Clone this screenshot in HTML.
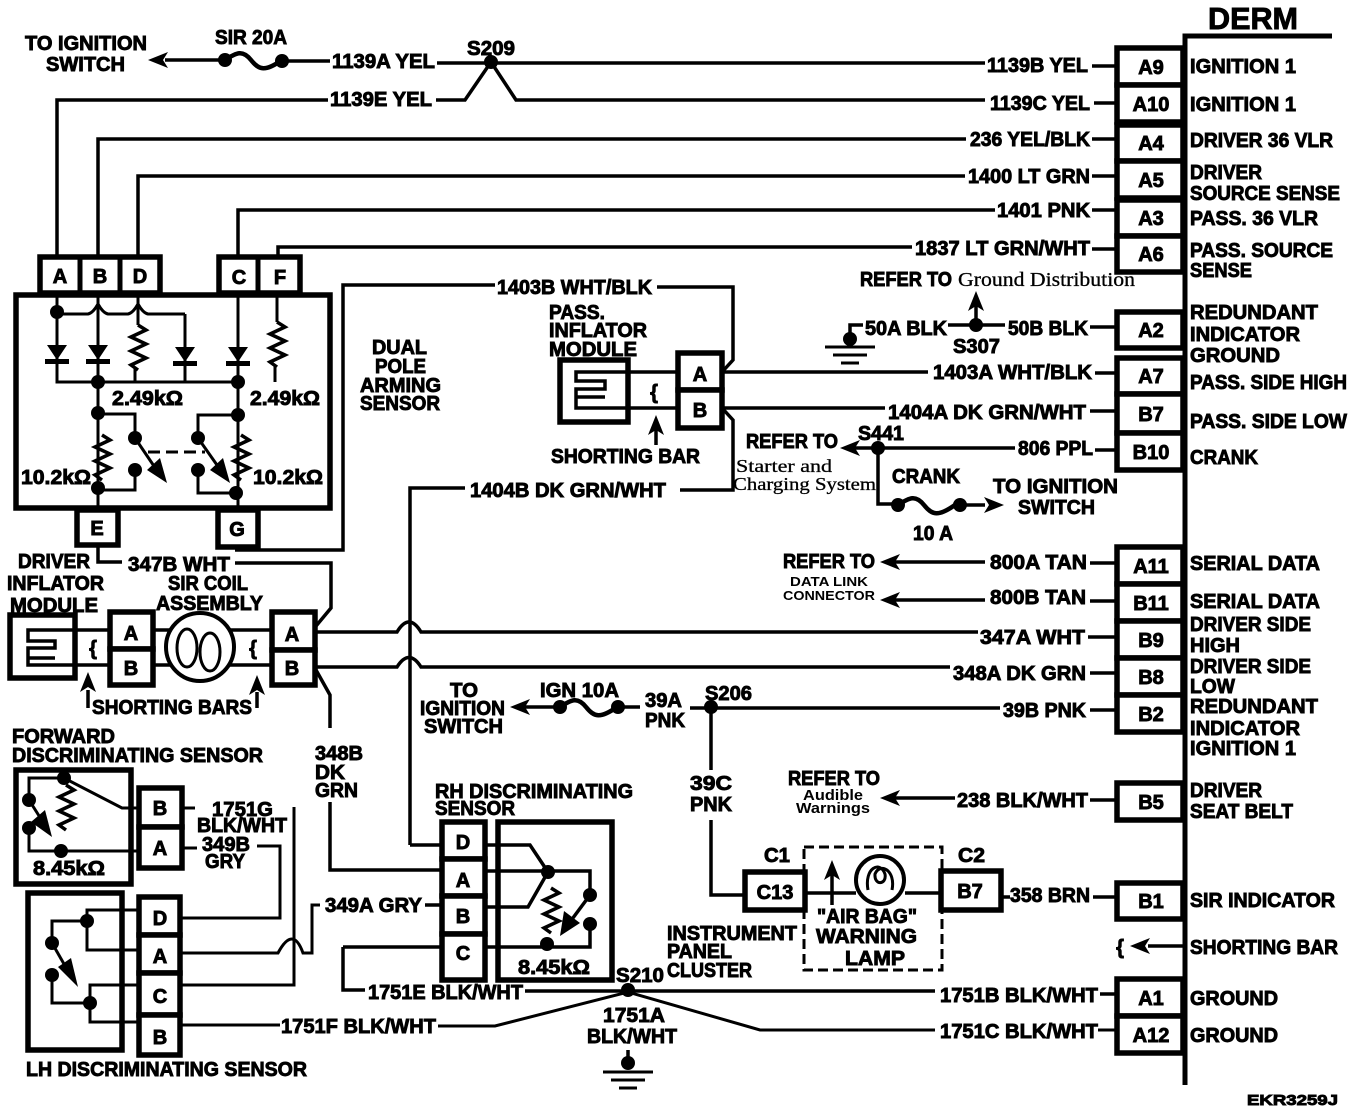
<!DOCTYPE html>
<html><head><meta charset="utf-8"><style>
html,body{margin:0;padding:0;background:#fff}
svg{display:block}
.t{font:bold 20px "Liberation Sans",sans-serif;fill:#000;stroke:#000;stroke-width:.9px}
.c{font:bold 20px "Liberation Sans",sans-serif;fill:#000;stroke:#000;stroke-width:.9px;text-anchor:middle}
.s{font:16px "Liberation Serif",serif;fill:#000;stroke:#000;stroke-width:.3px}
.m{font:bold 13px "Liberation Sans",sans-serif;fill:#000}
.w{fill:none;stroke:#000;stroke-width:3.5}
.b{fill:#fff;stroke:#000;stroke-width:5.5}
.n{fill:none;stroke:#000;stroke-width:3}
</style></head><body>
<svg width="1360" height="1114" viewBox="0 0 1360 1114" xmlns="http://www.w3.org/2000/svg">
<defs>
<circle id="d" r="7" fill="#000"/>
<path id="ah" d="M0 0l20-8-5 8 5 8z" fill="#000"/>
<path id="au" d="M0 0l-8 20 8-5 8 5z" fill="#000"/>
<path id="dio" d="M-10 0H10L0 15zM-12 14H12V19H-12z" fill="#000"/>
<path id="res" d="M0 0l8 5-15 7 15 7-15 7 15 7-15 7 7 5" fill="none" stroke="#000" stroke-width="3.5"/>
<path id="fuse" d="M0 0c12-8 18-10 26 0s14 12 31 0" fill="none" stroke="#000" stroke-width="4.5"/>
<path id="gnd" d="M-25 0H25M-17 8H17M-9 16H9" fill="none" stroke="#000" stroke-width="3"/>
</defs>
<rect width="1360" height="1114" fill="#fff"/>

<!-- DERM bar -->
<path d="M1185 1085V36H1332" fill="none" stroke="#000" stroke-width="5"/>
<text class="t" x="1208" y="29" textLength="90" lengthAdjust="spacingAndGlyphs" style="font-size:31px">DERM</text>

<!-- DERM connectors -->
<g>
<rect x="1117" y="48" width="66" height="37" class="b"/><rect x="1117" y="85" width="66" height="37" class="b"/>
<rect x="1117" y="125" width="66" height="36" class="b"/><rect x="1117" y="161" width="66" height="37" class="b"/>
<rect x="1117" y="200" width="66" height="36" class="b"/><rect x="1117" y="236" width="66" height="36" class="b"/>
<rect x="1117" y="312" width="66" height="36" class="b"/>
<rect x="1117" y="358" width="66" height="36" class="b"/><rect x="1117" y="394" width="66" height="39" class="b"/><rect x="1117" y="433" width="66" height="37" class="b"/>
<rect x="1117" y="547" width="66" height="37" class="b"/><rect x="1117" y="584" width="66" height="37" class="b"/><rect x="1117" y="621" width="66" height="37" class="b"/><rect x="1117" y="658" width="66" height="37" class="b"/><rect x="1117" y="695" width="66" height="37" class="b"/>
<rect x="1117" y="783" width="66" height="37" class="b"/><rect x="1117" y="883" width="66" height="36" class="b"/>
<rect x="1117" y="979" width="66" height="37" class="b"/><rect x="1117" y="1016" width="66" height="37" class="b"/>
</g>
<g>
<text class="c" x="1151" y="74">A9</text><text class="c" x="1151" y="111">A10</text><text class="c" x="1151" y="150">A4</text><text class="c" x="1151" y="187">A5</text><text class="c" x="1151" y="225">A3</text><text class="c" x="1151" y="261">A6</text><text class="c" x="1151" y="337">A2</text><text class="c" x="1151" y="383">A7</text><text class="c" x="1151" y="421">B7</text><text class="c" x="1151" y="459">B10</text><text class="c" x="1151" y="573">A11</text><text class="c" x="1151" y="610">B11</text><text class="c" x="1151" y="647">B9</text><text class="c" x="1151" y="684">B8</text><text class="c" x="1151" y="721">B2</text><text class="c" x="1151" y="809">B5</text><text class="c" x="1151" y="908">B1</text><text class="c" x="1151" y="1005">A1</text><text class="c" x="1151" y="1042">A12</text>
</g>

<!-- DERM right labels -->
<g>
<text class="t" x="1190" y="73" textLength="106" lengthAdjust="spacingAndGlyphs">IGNITION 1</text>
<text class="t" x="1190" y="111" textLength="106" lengthAdjust="spacingAndGlyphs">IGNITION 1</text>
<text class="t" x="1190" y="147" textLength="143" lengthAdjust="spacingAndGlyphs">DRIVER 36 VLR</text>
<text class="t" x="1190" y="179" textLength="72" lengthAdjust="spacingAndGlyphs">DRIVER</text>
<text class="t" x="1190" y="200" textLength="150" lengthAdjust="spacingAndGlyphs">SOURCE SENSE</text>
<text class="t" x="1190" y="225" textLength="128" lengthAdjust="spacingAndGlyphs">PASS. 36 VLR</text>
<text class="t" x="1190" y="257" textLength="143" lengthAdjust="spacingAndGlyphs">PASS. SOURCE</text>
<text class="t" x="1190" y="277" textLength="62" lengthAdjust="spacingAndGlyphs">SENSE</text>
<text class="t" x="1190" y="319" textLength="128" lengthAdjust="spacingAndGlyphs">REDUNDANT</text>
<text class="t" x="1190" y="341" textLength="110" lengthAdjust="spacingAndGlyphs">INDICATOR</text>
<text class="t" x="1190" y="362" textLength="90" lengthAdjust="spacingAndGlyphs">GROUND</text>
<text class="t" x="1190" y="389" textLength="157" lengthAdjust="spacingAndGlyphs">PASS. SIDE HIGH</text>
<text class="t" x="1190" y="428" textLength="157" lengthAdjust="spacingAndGlyphs">PASS. SIDE LOW</text>
<text class="t" x="1190" y="464" textLength="68" lengthAdjust="spacingAndGlyphs">CRANK</text>
<text class="t" x="1190" y="570" textLength="130" lengthAdjust="spacingAndGlyphs">SERIAL DATA</text>
<text class="t" x="1190" y="608" textLength="130" lengthAdjust="spacingAndGlyphs">SERIAL DATA</text>
<text class="t" x="1190" y="631" textLength="121" lengthAdjust="spacingAndGlyphs">DRIVER SIDE</text>
<text class="t" x="1190" y="652" textLength="50" lengthAdjust="spacingAndGlyphs">HIGH</text>
<text class="t" x="1190" y="673" textLength="121" lengthAdjust="spacingAndGlyphs">DRIVER SIDE</text>
<text class="t" x="1190" y="693" textLength="45" lengthAdjust="spacingAndGlyphs">LOW</text>
<text class="t" x="1190" y="713" textLength="128" lengthAdjust="spacingAndGlyphs">REDUNDANT</text>
<text class="t" x="1190" y="735" textLength="110" lengthAdjust="spacingAndGlyphs">INDICATOR</text>
<text class="t" x="1190" y="755" textLength="106" lengthAdjust="spacingAndGlyphs">IGNITION 1</text>
<text class="t" x="1190" y="797" textLength="72" lengthAdjust="spacingAndGlyphs">DRIVER</text>
<text class="t" x="1190" y="818" textLength="103" lengthAdjust="spacingAndGlyphs">SEAT BELT</text>
<text class="t" x="1190" y="907" textLength="145" lengthAdjust="spacingAndGlyphs">SIR INDICATOR</text>
<text class="t" x="1190" y="954" textLength="148" lengthAdjust="spacingAndGlyphs">SHORTING BAR</text>
<text class="t" x="1190" y="1005" textLength="88" lengthAdjust="spacingAndGlyphs">GROUND</text>
<text class="t" x="1190" y="1042" textLength="88" lengthAdjust="spacingAndGlyphs">GROUND</text>
<text class="t" x="1247" y="1105" textLength="91" lengthAdjust="spacingAndGlyphs" style="font-size:15px">EKR3259J</text>
</g>

<!-- top wires -->
<g class="w">
<path d="M165 60H222M285 61H330"/>
<path d="M437 63H985M1092 66H1117"/>
<path d="M57 258V100H328M436 100H465L491 62 516 100H985M1094 103H1117"/>
<path d="M98 258V139H966M1092 139H1117"/>
<path d="M138 258V176H965M1092 176H1117"/>
<path d="M238 258V210H995M1092 210H1117"/>
<path d="M278 258V247H912M1092 249H1117"/>
</g>
<use href="#ah" x="148" y="60"/>
<use href="#d" x="225" y="60"/><use href="#fuse" x="225" y="60"/><use href="#d" x="282" y="61"/><use href="#d" x="491" y="62"/>
<text class="t" x="25" y="50" textLength="122" lengthAdjust="spacingAndGlyphs">TO IGNITION</text>
<text class="t" x="46" y="71" textLength="79" lengthAdjust="spacingAndGlyphs">SWITCH</text>
<text class="t" x="215" y="44" textLength="72" lengthAdjust="spacingAndGlyphs">SIR 20A</text>
<text class="t" x="332" y="68" textLength="103" lengthAdjust="spacingAndGlyphs">1139A YEL</text>
<text class="t" x="330" y="106" textLength="102" lengthAdjust="spacingAndGlyphs">1139E YEL</text>
<text class="t" x="467" y="55" textLength="48" lengthAdjust="spacingAndGlyphs">S209</text>
<text class="t" x="987" y="72" textLength="101" lengthAdjust="spacingAndGlyphs">1139B YEL</text>
<text class="t" x="990" y="110" textLength="100" lengthAdjust="spacingAndGlyphs">1139C YEL</text>
<text class="t" x="970" y="146" textLength="120" lengthAdjust="spacingAndGlyphs">236 YEL/BLK</text>
<text class="t" x="968" y="183" textLength="122" lengthAdjust="spacingAndGlyphs">1400 LT GRN</text>
<text class="t" x="997" y="217" textLength="93" lengthAdjust="spacingAndGlyphs">1401 PNK</text>
<text class="t" x="915" y="255" textLength="175" lengthAdjust="spacingAndGlyphs">1837 LT GRN/WHT</text>

<!-- left module -->
<rect x="40" y="257" width="120" height="36" class="b"/><path d="M80 257V293M120 257V293" class="w" style="stroke-width:5"/>
<rect x="219" y="257" width="81" height="36" class="b"/><path d="M258 257V293" class="w" style="stroke-width:5"/>
<rect x="16" y="295" width="314" height="213" class="b"/>
<rect x="77" y="510" width="41" height="35" class="b"/><rect x="218" y="510" width="40" height="37" class="b"/>
<text class="c" x="60" y="283">A</text><text class="c" x="100" y="283">B</text><text class="c" x="140" y="283">D</text><text class="c" x="239" y="284">C</text><text class="c" x="280" y="284">F</text><text class="c" x="97" y="535">E</text><text class="c" x="237" y="536">G</text>
<g class="n">
<path d="M57 297V382H238M98 297V382M238 297V382M185 314V382"/>
<path d="M57 314H88q5-1 10-10 5 9 10 10H128q5-1 10-10 5 9 10 10H185"/>
<path d="M138 297V325M135 368V382M277 297V322M275 366V382"/>
<path d="M98 382V508M238 382V508"/>
<path d="M98 414H135V438M135 470V490H98"/>
<path d="M238 415H198V438M198 470V493H236"/>
<path d="M148 452H205" stroke-dasharray="12 6"/>
<path d="M135 438L160 475M198 438L224 475"/>
</g>
<use href="#dio" x="57" y="345"/><use href="#dio" x="98" y="345"/><use href="#dio" x="185" y="347"/><use href="#dio" x="238" y="347"/>
<use href="#res" x="138" y="325"/><use href="#res" x="277" y="322"/><use href="#res" x="102" y="435"/><use href="#res" x="241" y="435"/>
<path d="M167 483L147 470 160 458zM230 483L210 470 223 458z" fill="#000"/>
<use href="#d" x="57" y="312"/><use href="#d" x="98" y="382"/><use href="#d" x="238" y="382"/><use href="#d" x="98" y="413"/><use href="#d" x="238" y="415"/><use href="#d" x="135" y="438"/><use href="#d" x="198" y="438"/><use href="#d" x="135" y="470"/><use href="#d" x="198" y="470"/><use href="#d" x="98" y="488"/><use href="#d" x="236" y="493"/>
<text class="t" x="112" y="405" textLength="71" lengthAdjust="spacingAndGlyphs">2.49kΩ</text>
<text class="t" x="250" y="405" textLength="70" lengthAdjust="spacingAndGlyphs">2.49kΩ</text>
<text class="t" x="21" y="484" textLength="70" lengthAdjust="spacingAndGlyphs">10.2kΩ</text>
<text class="t" x="253" y="484" textLength="70" lengthAdjust="spacingAndGlyphs">10.2kΩ</text>

<!-- driver inflator -->
<g class="w">
<path d="M98 545V562H122M235 563H331V608L316 626"/>
<path d="M235 550H343V285H495"/>
<path d="M657 287H733V360L722 372"/>
<path d="M75 630H110M153 630H273M315 632H397Q409 612 421 632H978M1088 637H1117"/>
<path d="M75 665H110M153 665H273M315 667H397Q409 648 421 667H950M1090 673H1117"/>
<path d="M316 670L330 695V728M330 802V870H442"/>
<path d="M410 845V488H465M680 490H733V420L722 408"/>
<path d="M410 845H442"/>
</g>
<rect x="10" y="615" width="65" height="63" class="b"/>
<path d="M75 630H28V641H55V648H28V658H55M28 658V665H75" class="n" style="stroke-width:3.5"/>
<rect x="110" y="612" width="43" height="37" class="b"/><rect x="110" y="649" width="43" height="36" class="b"/>
<circle cx="200" cy="647" r="34" fill="#fff" stroke="#000" stroke-width="4"/>
<ellipse cx="187" cy="648" rx="10" ry="19" class="n"/><ellipse cx="210" cy="652" rx="10" ry="19" class="n"/>
<rect x="272" y="612" width="43" height="38" class="b"/><rect x="272" y="650" width="43" height="35" class="b"/>
<text class="c" x="131" y="640">A</text><text class="c" x="131" y="675">B</text><text class="c" x="292" y="641">A</text><text class="c" x="292" y="675">B</text>
<text class="c" x="93" y="655">{</text><text class="c" x="253" y="655">{</text>
<path d="M88 708V690M257 708V692" class="w"/><use href="#au" x="88" y="672"/><use href="#au" x="257" y="675"/>
<text class="t" x="18" y="568" textLength="72" lengthAdjust="spacingAndGlyphs">DRIVER</text>
<text class="t" x="7" y="590" textLength="97" lengthAdjust="spacingAndGlyphs">INFLATOR</text>
<text class="t" x="10" y="612" textLength="88" lengthAdjust="spacingAndGlyphs">MODULE</text>
<text class="t" x="128" y="571" textLength="102" lengthAdjust="spacingAndGlyphs">347B WHT</text>
<text class="t" x="168" y="590" textLength="80" lengthAdjust="spacingAndGlyphs">SIR COIL</text>
<text class="t" x="156" y="610" textLength="107" lengthAdjust="spacingAndGlyphs">ASSEMBLY</text>
<text class="t" x="92" y="714" textLength="160" lengthAdjust="spacingAndGlyphs">SHORTING BARS</text>
<text class="t" x="315" y="760" textLength="48" lengthAdjust="spacingAndGlyphs">348B</text>
<text class="t" x="315" y="779" textLength="30" lengthAdjust="spacingAndGlyphs">DK</text>
<text class="t" x="315" y="797" textLength="43" lengthAdjust="spacingAndGlyphs">GRN</text>

<text class="t" x="372" y="354" textLength="55" lengthAdjust="spacingAndGlyphs">DUAL</text>
<text class="t" x="375" y="373" textLength="51" lengthAdjust="spacingAndGlyphs">POLE</text>
<text class="t" x="360" y="392" textLength="81" lengthAdjust="spacingAndGlyphs">ARMING</text>
<text class="t" x="360" y="410" textLength="80" lengthAdjust="spacingAndGlyphs">SENSOR</text>
<text class="t" x="497" y="294" textLength="155" lengthAdjust="spacingAndGlyphs">1403B WHT/BLK</text>
<text class="t" x="470" y="497" textLength="196" lengthAdjust="spacingAndGlyphs">1404B DK GRN/WHT</text>

<!-- forward sensor -->
<rect x="16" y="770" width="115" height="114" class="b"/>
<rect x="139" y="788" width="43" height="39" class="b"/><rect x="139" y="827" width="43" height="41" class="b"/>
<text class="c" x="160" y="815">B</text><text class="c" x="160" y="855">A</text>
<g class="n">
<path d="M29 800V778H64L122 808H139M29 828V851H139"/>
<path d="M29 800L48 830"/>
<path d="M182 808H195M182 848H197M257 846H280V918H180"/>
<path d="M294 807V985H180"/>
</g>
<use href="#res" x="66" y="785"/>
<path d="M52 837L31 822 45 810z" fill="#000"/>
<use href="#d" x="64" y="778"/><use href="#d" x="29" y="800"/><use href="#d" x="29" y="828"/><use href="#d" x="61" y="851"/>
<text class="t" x="12" y="743" textLength="103" lengthAdjust="spacingAndGlyphs">FORWARD</text>
<text class="t" x="12" y="762" textLength="251" lengthAdjust="spacingAndGlyphs">DISCRIMINATING SENSOR</text>
<text class="t" x="33" y="875" textLength="72" lengthAdjust="spacingAndGlyphs">8.45kΩ</text>
<text class="t" x="212" y="816" textLength="61" lengthAdjust="spacingAndGlyphs">1751G</text>
<text class="t" x="197" y="832" textLength="90" lengthAdjust="spacingAndGlyphs">BLK/WHT</text>
<text class="t" x="202" y="851" textLength="48" lengthAdjust="spacingAndGlyphs">349B</text>
<text class="t" x="205" y="868" textLength="40" lengthAdjust="spacingAndGlyphs">GRY</text>

<!-- LH sensor -->
<rect x="28" y="893" width="94" height="157" class="b"/>
<rect x="139" y="897" width="41" height="38" class="b"/><rect x="139" y="935" width="41" height="38" class="b"/><rect x="139" y="973" width="41" height="42" class="b"/><rect x="139" y="1015" width="41" height="40" class="b"/>
<text class="c" x="160" y="925">D</text><text class="c" x="160" y="963">A</text><text class="c" x="160" y="1003">C</text><text class="c" x="160" y="1044">B</text>
<g class="n">
<path d="M139 910H87V950H139M87 921H52V943"/>
<path d="M139 985H90V1022H139M90 1003H52V975"/>
<path d="M52 943L72 978"/>
<path d="M180 953H278Q293 925 303 953H312V905H320"/>
<path d="M180 1025H280M438 1026H495L628 992 760 1030H935M1098 1030H1117"/>
</g>
<path d="M78 987L58 967 71 958z" fill="#000"/>
<use href="#d" x="87" y="921"/><use href="#d" x="52" y="943"/><use href="#d" x="52" y="975"/><use href="#d" x="90" y="1003"/>
<text class="t" x="26" y="1076" textLength="281" lengthAdjust="spacingAndGlyphs">LH DISCRIMINATING SENSOR</text>
<text class="t" x="281" y="1033" textLength="155" lengthAdjust="spacingAndGlyphs">1751F BLK/WHT</text>
<text class="t" x="325" y="912" textLength="97" lengthAdjust="spacingAndGlyphs">349A GRY</text>

<!-- RH sensor -->
<rect x="442" y="822" width="43" height="37" class="b"/><rect x="442" y="859" width="43" height="37" class="b"/><rect x="442" y="896" width="43" height="38" class="b"/><rect x="442" y="934" width="43" height="46" class="b"/>
<rect x="498" y="822" width="114" height="158" class="b"/>
<text class="c" x="463" y="849">D</text><text class="c" x="463" y="887">A</text><text class="c" x="463" y="923">B</text><text class="c" x="463" y="960">C</text>
<g class="w">
<path d="M485 845H530L548 872 528 907H485M485 871H590V895M485 947H590V924"/>
<path d="M425 905H442M343 947H442M343 947V990H365M525 991H935M1100 994H1117"/>
<path d="M590 895L564 930"/>
</g>
<use href="#res" x="551" y="888"/>
<path d="M560 936L564 911 580 923z" fill="#000"/>
<use href="#d" x="548" y="872"/><use href="#d" x="547" y="944"/><use href="#d" x="590" y="895"/><use href="#d" x="590" y="924"/>
<text class="t" x="435" y="798" textLength="198" lengthAdjust="spacingAndGlyphs">RH DISCRIMINATING</text>
<text class="t" x="435" y="815" textLength="80" lengthAdjust="spacingAndGlyphs">SENSOR</text>
<text class="t" x="518" y="974" textLength="72" lengthAdjust="spacingAndGlyphs">8.45kΩ</text>
<text class="t" x="368" y="999" textLength="155" lengthAdjust="spacingAndGlyphs">1751E BLK/WHT</text>
<text class="t" x="616" y="982" textLength="48" lengthAdjust="spacingAndGlyphs">S210</text>
<text class="t" x="603" y="1022" textLength="62" lengthAdjust="spacingAndGlyphs">1751A</text>
<text class="t" x="587" y="1043" textLength="90" lengthAdjust="spacingAndGlyphs">BLK/WHT</text>
<text class="t" x="667" y="940" textLength="130" lengthAdjust="spacingAndGlyphs">INSTRUMENT</text>
<text class="t" x="667" y="958" textLength="65" lengthAdjust="spacingAndGlyphs">PANEL</text>
<text class="t" x="667" y="977" textLength="85" lengthAdjust="spacingAndGlyphs">CLUSTER</text>
<text class="t" x="940" y="1002" textLength="158" lengthAdjust="spacingAndGlyphs">1751B BLK/WHT</text>
<text class="t" x="940" y="1038" textLength="158" lengthAdjust="spacingAndGlyphs">1751C BLK/WHT</text>
<use href="#d" x="628" y="990"/><use href="#d" x="628" y="1063"/><path d="M628 1050V1065" class="w"/><use href="#gnd" x="628" y="1072"/>

<!-- pass inflator -->
<rect x="560" y="360" width="68" height="62" class="b"/>
<path d="M628 372H576V381H605V389H576V397H605M576 397V408H628" class="n" style="stroke-width:3.5"/>
<path d="M628 372H678M628 408H678" class="w"/>
<rect x="678" y="353" width="44" height="37" class="b"/><rect x="678" y="390" width="44" height="38" class="b"/>
<text class="c" x="700" y="381">A</text><text class="c" x="700" y="417">B</text>
<text class="c" x="654" y="399">{</text>
<path d="M656 445V430" class="w"/><use href="#au" x="656" y="415"/>
<g class="w"><path d="M722 372H928M1095 373H1117M722 408H885M1090 411H1117"/></g>
<text class="t" x="549" y="319" textLength="56" lengthAdjust="spacingAndGlyphs">PASS.</text>
<text class="t" x="549" y="337" textLength="98" lengthAdjust="spacingAndGlyphs">INFLATOR</text>
<text class="t" x="549" y="356" textLength="88" lengthAdjust="spacingAndGlyphs">MODULE</text>
<text class="t" x="551" y="463" textLength="149" lengthAdjust="spacingAndGlyphs">SHORTING BAR</text>
<text class="t" x="933" y="379" textLength="159" lengthAdjust="spacingAndGlyphs">1403A WHT/BLK</text>
<text class="t" x="888" y="419" textLength="198" lengthAdjust="spacingAndGlyphs">1404A DK GRN/WHT</text>

<!-- ground / refer -->
<text class="t" x="860" y="286" textLength="92" lengthAdjust="spacingAndGlyphs">REFER TO</text>
<text class="s" x="958" y="286" textLength="177" lengthAdjust="spacingAndGlyphs" style="font-size:20px">Ground Distribution</text>
<path d="M976 325V305M948 325H1005M850 340V325H863M1090 327H1117" class="w"/>
<use href="#au" x="976" y="291"/><use href="#d" x="976" y="325"/><use href="#d" x="850" y="339"/><use href="#gnd" x="850" y="347"/>
<text class="t" x="865" y="335" textLength="82" lengthAdjust="spacingAndGlyphs">50A BLK</text>
<text class="t" x="1008" y="335" textLength="80" lengthAdjust="spacingAndGlyphs">50B BLK</text>
<text class="t" x="953" y="353" textLength="47" lengthAdjust="spacingAndGlyphs">S307</text>

<!-- S441 -->
<path d="M855 448H1015M1095 450H1117M878 448V504H895M960 505H985" class="w"/>
<use href="#ah" x="840" y="448"/><use href="#d" x="878" y="448"/><use href="#d" x="898" y="505"/><use href="#fuse" x="898" y="505"/><use href="#d" x="960" y="505"/>
<path d="M1004 505l-20-8 5 8-5 8z" fill="#000"/>
<text class="t" x="746" y="448" textLength="92" lengthAdjust="spacingAndGlyphs">REFER TO</text>
<text class="t" x="858" y="440" textLength="46" lengthAdjust="spacingAndGlyphs">S441</text>
<text class="s" x="736" y="472" textLength="96" lengthAdjust="spacingAndGlyphs" style="font-size:18px">Starter and</text>
<text class="s" x="733" y="490" textLength="143" lengthAdjust="spacingAndGlyphs" style="font-size:18px">Charging System</text>
<text class="t" x="1018" y="455" textLength="75" lengthAdjust="spacingAndGlyphs">806 PPL</text>
<text class="t" x="892" y="483" textLength="68" lengthAdjust="spacingAndGlyphs">CRANK</text>
<text class="t" x="913" y="540" textLength="40" lengthAdjust="spacingAndGlyphs">10 A</text>
<text class="t" x="993" y="493" textLength="125" lengthAdjust="spacingAndGlyphs">TO IGNITION</text>
<text class="t" x="1018" y="514" textLength="77" lengthAdjust="spacingAndGlyphs">SWITCH</text>

<!-- serial data -->
<path d="M895 562H985M1090 563H1117M895 600H985M1090 601H1117" class="w"/>
<use href="#ah" x="880" y="562"/><use href="#ah" x="880" y="600"/>
<text class="t" x="783" y="568" textLength="92" lengthAdjust="spacingAndGlyphs">REFER TO</text>
<text class="m" x="790" y="586" textLength="78" lengthAdjust="spacingAndGlyphs">DATA LINK</text>
<text class="m" x="783" y="600" textLength="92" lengthAdjust="spacingAndGlyphs">CONNECTOR</text>
<text class="t" x="990" y="569" textLength="97" lengthAdjust="spacingAndGlyphs">800A TAN</text>
<text class="t" x="990" y="604" textLength="96" lengthAdjust="spacingAndGlyphs">800B TAN</text>
<text class="t" x="980" y="644" textLength="105" lengthAdjust="spacingAndGlyphs">347A WHT</text>
<text class="t" x="953" y="680" textLength="133" lengthAdjust="spacingAndGlyphs">348A DK GRN</text>

<!-- ign 10A -->
<path d="M525 707H558M620 707H640M690 708H1000M1090 710H1117M711 708V895H743" class="w"/>
<use href="#ah" x="510" y="707"/><use href="#d" x="560" y="707"/><use href="#fuse" x="560" y="707"/><use href="#d" x="618" y="707"/><use href="#d" x="711" y="707"/>
<text class="t" x="450" y="697" textLength="28" lengthAdjust="spacingAndGlyphs">TO</text>
<text class="t" x="420" y="715" textLength="85" lengthAdjust="spacingAndGlyphs">IGNITION</text>
<text class="t" x="424" y="733" textLength="79" lengthAdjust="spacingAndGlyphs">SWITCH</text>
<text class="t" x="540" y="697" textLength="79" lengthAdjust="spacingAndGlyphs">IGN 10A</text>
<text class="t" x="645" y="707" textLength="37" lengthAdjust="spacingAndGlyphs">39A</text>
<text class="t" x="645" y="727" textLength="40" lengthAdjust="spacingAndGlyphs">PNK</text>
<text class="t" x="705" y="700" textLength="47" lengthAdjust="spacingAndGlyphs">S206</text>
<text class="t" x="1003" y="717" textLength="83" lengthAdjust="spacingAndGlyphs">39B PNK</text>
<rect x="688" y="770" width="46" height="50" fill="#fff"/>
<text class="t" x="690" y="790" textLength="42" lengthAdjust="spacingAndGlyphs">39C</text>
<text class="t" x="690" y="811" textLength="42" lengthAdjust="spacingAndGlyphs">PNK</text>

<!-- audible -->
<path d="M895 798H955M1090 800H1117" class="w"/><use href="#ah" x="880" y="798"/>
<text class="t" x="788" y="785" textLength="92" lengthAdjust="spacingAndGlyphs">REFER TO</text>
<text class="m" x="803" y="800" textLength="60" lengthAdjust="spacingAndGlyphs" style="font-size:15px">Audible</text>
<text class="m" x="796" y="813" textLength="74" lengthAdjust="spacingAndGlyphs" style="font-size:15px">Warnings</text>
<text class="t" x="957" y="807" textLength="131" lengthAdjust="spacingAndGlyphs">238 BLK/WHT</text>

<!-- lamp -->
<rect x="804" y="847" width="138" height="123" fill="none" stroke="#000" stroke-width="3" stroke-dasharray="10 5"/>
<path d="M805 893H856M905 893H941M1001 897H1010M1093 897H1117M832 905V875" class="w"/>
<rect x="745" y="872" width="60" height="38" class="b"/><rect x="941" y="871" width="60" height="39" class="b"/>
<circle cx="880" cy="880" r="24" fill="#fff" stroke="#000" stroke-width="4"/>
<path d="M868 890C864 868 880 860 885 874 887 885 874 886 875 874 880 862 896 870 892 890" class="n"/>
<use href="#au" x="832" y="860"/>
<text class="c" x="775" y="899">C13</text><text class="c" x="970" y="898">B7</text>
<text class="t" x="764" y="862" textLength="26" lengthAdjust="spacingAndGlyphs">C1</text>
<text class="t" x="958" y="862" textLength="27" lengthAdjust="spacingAndGlyphs">C2</text>
<text class="t" x="817" y="923" textLength="100" lengthAdjust="spacingAndGlyphs">"AIR BAG"</text>
<text class="t" x="816" y="943" textLength="101" lengthAdjust="spacingAndGlyphs">WARNING</text>
<text class="t" x="845" y="965" textLength="60" lengthAdjust="spacingAndGlyphs">LAMP</text>
<text class="t" x="1010" y="902" textLength="80" lengthAdjust="spacingAndGlyphs">358 BRN</text>

<!-- shorting bar right -->
<path d="M1148 946H1185" class="w"/><use href="#ah" x="1130" y="946"/>
<text class="c" x="1120" y="954">{</text>
</svg>
</body></html>
